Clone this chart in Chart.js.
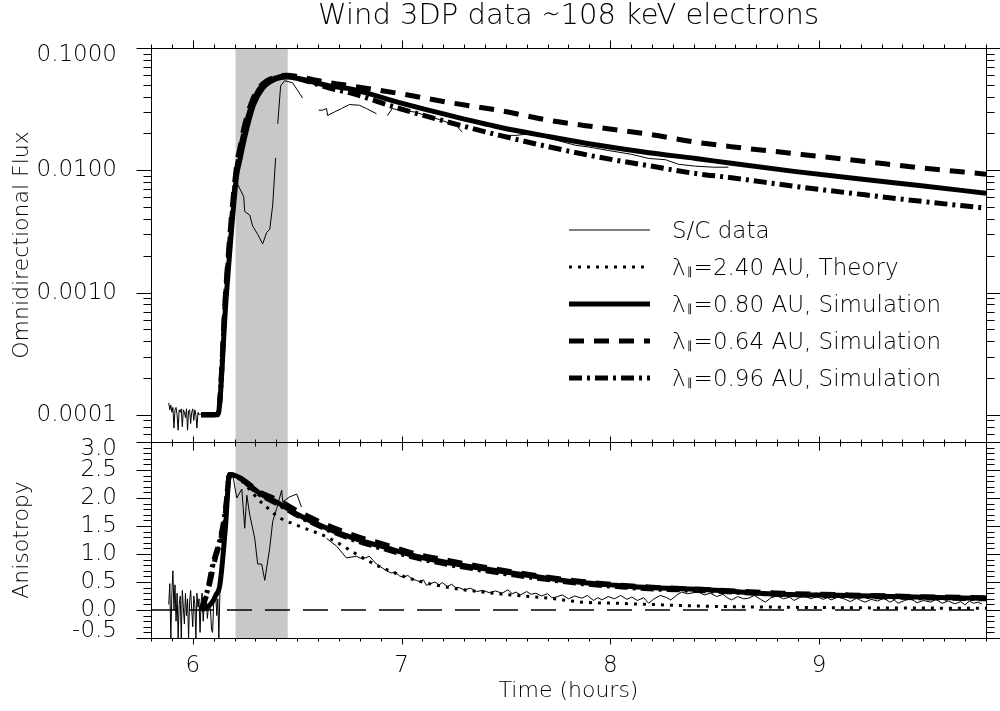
<!DOCTYPE html>
<html>
<head>
<meta charset="utf-8">
<script src="https://cdn.jsdelivr.net/npm/chart.js@4.4.1/dist/chart.umd.min.js"></script>
<style>
html,body{margin:0;padding:0;background:#fff}
#wrap{width:1000px;height:711px}
</style>
</head>
<body>
<div id="wrap"><canvas id="c" width="1000" height="711"></canvas></div>
<script>

// simulated omnidirectional flux (top panel)
let simTime = [6.04, 6.12, 6.16, 6.21, 6.225, 6.25, 6.29, 6.335, 6.40, 6.45, 6.51, 6.655, 6.75, 6.99, 7.23, 7.47, 7.71, 7.945, 8.185, 8.41, 8.58, 8.88, 9.22, 9.48, 9.8]
let flux080 = [1e-4, 1e-4, 9e-4, 0.009, 0.012, 0.019, 0.034, 0.047, 0.056, 0.058, 0.056, 0.049, 0.0465, 0.0358, 0.0281, 0.0225, 0.0188, 0.0160, 0.0139, 0.0125, 0.0114, 0.0098, 0.0084, 0.0075, 0.0065]
let flux064 = [1e-4, 1e-4, 0.0012, 0.011, 0.015, 0.024, 0.039, 0.051, 0.058, 0.060, 0.058, 0.052, 0.0492, 0.0424, 0.0358, 0.0308, 0.0256, 0.0224, 0.0197, 0.0170, 0.0156, 0.0137, 0.0118, 0.0105, 0.0093]
let flux096 = [1e-4, 1e-4, 0.0011, 0.010, 0.014, 0.022, 0.037, 0.050, 0.057, 0.059, 0.056, 0.047, 0.0431, 0.032, 0.0246, 0.0193, 0.0155, 0.0128, 0.0109, 0.0094, 0.0087, 0.0074, 0.0063, 0.0056, 0.0049]

// simulated / theory anisotropy (bottom panel)
let anisTime = [6.04, 6.07, 6.095, 6.11, 6.13, 6.155, 6.177, 6.335, 6.415, 6.495, 6.655, 6.815, 6.91, 7.07, 7.23, 7.39, 7.55, 7.71, 7.865, 8.03, 8.185, 8.425, 8.82, 9.14, 9.46, 9.8]
let anis080 = [0, 0.05, 0.15, 0.26, 0.45, 1.40, 2.42, 2.05, 1.90, 1.72, 1.44, 1.23, 1.13, 0.96, 0.84, 0.74, 0.65, 0.56, 0.49, 0.44, 0.40, 0.37, 0.28, 0.26, 0.23, 0.21]
let anis064 = [0, 0.30, 0.70, 0.95, 1.20, 1.70, 2.42, 2.08, 1.95, 1.78, 1.50, 1.28, 1.18, 1.00, 0.88, 0.77, 0.67, 0.58, 0.51, 0.45, 0.41, 0.37, 0.30, 0.27, 0.24, 0.22]
let anis096 = [0, 0.35, 0.80, 1.00, 1.25, 1.75, 2.42, 2.03, 1.88, 1.70, 1.42, 1.20, 1.10, 0.93, 0.81, 0.71, 0.62, 0.54, 0.47, 0.42, 0.38, 0.35, 0.28, 0.25, 0.22, 0.20]
let anis240 = [0, 0.30, 0.70, 0.95, 1.20, 1.70, 2.42, 1.90, 1.65, 1.52, 1.28, 0.93, 0.75, 0.53, 0.40, 0.32, 0.26, 0.21, 0.14, 0.12, 0.10, 0.07, 0.05, 0.04, 0.035, 0.03]

// spacecraft flux (null = data gap)
let scFluxTime = [
5.885, 5.89, 5.895, 5.9, 5.905, 5.91, 5.915, 5.92, 5.925, 5.93,
5.935, 5.94, 5.945, 5.95, 5.955, 5.96, 5.965, 5.97, 5.975, 5.98,
5.985, 5.99, 5.995, 6.0, 6.005, 6.01, 6.015, 6.02, 6.025, 6.03,
6.035, 6.04, 6.045,
6.12, 6.16, 6.21, 6.244, 6.249, 6.273, 6.287, 6.311, 6.335, 6.354,
6.369, 6.383, 6.397, 6.40, 6.407, 6.421, 6.44, 6.478, 6.526, 6.55,
6.603, 6.622, 6.641, 6.646, 6.679, 6.713, 6.751, 6.799, 6.832, 6.88, 6.90,
6.932, 6.956, 6.99, 7.061, 7.119, 7.181, 7.262, 7.291, 7.35,
7.467, 7.549, 7.625, 7.721, 7.835, 7.897, 7.993, 8.103, 8.184, 8.265,
8.327, 8.409, 8.495, 8.566]
let scFluxValue = [
1.25e-4, 1.1e-4, 1.2e-4, 1.05e-4, 1.15e-4, 0.78e-4, 1.1e-4, 1.15e-4, 1.0e-4, 0.75e-4,
1.1e-4, 1.05e-4, 1.12e-4, 0.8e-4, 1.1e-4, 1.05e-4, 0.95e-4, 1.12e-4, 0.75e-4, 1.08e-4,
1.1e-4, 0.85e-4, 1.05e-4, 1.12e-4, 0.9e-4, 1.1e-4, 1.0e-4, 0.78e-4, 1.05e-4, 1.0e-4,
1.02e-4, 1.0e-4, 1.0e-4,
1.0e-4, 8e-4, 0.008, 0.0061, 0.0046, 0.0043, 0.0035, 0.0030, 0.0025, 0.0031,
0.0033, 0.0052, 0.0126, null, 0.024, 0.049, 0.054, 0.052, 0.039, null,
0.031, 0.031, 0.032, 0.0281, 0.030, 0.032, 0.0345, 0.034, 0.032, 0.029, null,
0.028, 0.032, 0.031, 0.030, 0.028, 0.026, 0.0233, 0.0205, null,
0.0193, 0.0193, 0.020, 0.018, 0.016, 0.0155, 0.0145, 0.0135, 0.0125, 0.0122,
0.0112, 0.0108, 0.0106, 0.0106]

// spacecraft anisotropy
let scAnisTime = [
5.885, 5.89, 5.895, 5.9, 5.905, 5.91, 5.915, 5.92, 5.925, 5.93,
5.935, 5.94, 5.945, 5.95, 5.955, 5.96, 5.965, 5.97, 5.975, 5.98,
5.985, 5.99, 5.995, 6.0, 6.005, 6.01, 6.015, 6.02, 6.025, 6.03,
6.035, 6.04, 6.045, 6.05, 6.055, 6.06, 6.065, 6.07, 6.075, 6.08,
6.085, 6.09, 6.095, 6.1, 6.105, 6.11, 6.115, 6.12, 6.125, 6.13,
6.155, 6.177, 6.192, 6.211, 6.235, 6.249, 6.259, 6.273, 6.297, 6.311,
6.330, 6.345, 6.369, 6.383, 6.402, 6.426, 6.431, 6.464, 6.498, 6.521,
6.56,
6.641, 6.689, 6.736, 6.784, 6.813, 6.846, 6.880,
6.908, 6.93, 6.95, 6.97, 6.99, 7.01, 7.03, 7.05, 7.071, 7.09,
7.105, 7.119, 7.14, 7.16, 7.18, 7.195, 7.22, 7.24, 7.26, 7.276,
7.30, 7.33, 7.36, 7.39, 7.42, 7.45, 7.482, 7.51, 7.53, 7.549,
7.57, 7.60, 7.62, 7.644, 7.67, 7.70, 7.72, 7.74, 7.77, 7.80,
7.83, 7.864, 7.89, 7.92, 7.94, 7.96, 7.99, 8.02, 8.05, 8.08,
8.103, 8.13, 8.16, 8.184, 8.21, 8.24, 8.265, 8.29, 8.32, 8.342,
8.37, 8.40, 8.423, 8.45, 8.48, 8.51, 8.54, 8.56, 8.581, 8.61,
8.64, 8.662, 8.69, 8.72, 8.743, 8.77, 8.80, 8.83, 8.86, 8.88,
8.901, 8.93, 8.96, 8.99, 9.02, 9.04, 9.058, 9.09, 9.12, 9.15,
9.18, 9.20, 9.221, 9.25, 9.28, 9.31, 9.34, 9.36, 9.379, 9.41,
9.44, 9.47, 9.50, 9.536, 9.56, 9.59, 9.62, 9.65, 9.68, 9.699,
9.72, 9.74, 9.761, 9.78]
let scAnisValue = [
0.10, 0.47, -0.50, 0.30, 0.70, 0.00, 0.45, -0.20, 0.30, -0.50,
0.10, 0.25, -0.50, 0.35, 0.05, -0.25, 0.30, -0.10, 0.20, -0.50,
0.15, 0.35, 0.00, -0.30, 0.25, 0.10, -0.50, 0.30, 0.05, 0.20,
-0.40, 0.15, 0.30, -0.20, 0.10, 0.00, 0.20, -0.15, 0.05, 0.10,
0.00, -0.35, -0.40, 0.10, 0.25, 0.30, -0.10, 0.20, -0.50, 0.30,
1.40, 2.42, 2.40, 2.00, 2.16, 1.46, 2.05, 1.70, 1.28, 0.82,
0.82, 0.53, 1.11, 1.58, 1.81, 2.14, 1.93, 2.02, 2.07, 1.84,
null,
1.28, 1.14, 0.93, 0.96, 0.91, 0.96, 0.82,
0.75, 0.70, 0.66, 0.68, 0.61, 0.58, 0.62, 0.55, 0.53, 0.50,
0.54, 0.44, 0.47, 0.50, 0.45, 0.49, 0.42, 0.46, 0.40, 0.40,
0.36, 0.39, 0.33, 0.35, 0.31, 0.34, 0.30, 0.36, 0.29, 0.32,
0.27, 0.33, 0.28, 0.30, 0.25, 0.29, 0.22, 0.23, 0.27, 0.20,
0.25, 0.21, 0.26, 0.17, 0.22, 0.18, 0.24, 0.20, 0.26, 0.19,
0.23, 0.17, 0.22, 0.12, 0.20, 0.26, 0.23, 0.18, 0.27, 0.32,
0.29, 0.31, 0.32, 0.27, 0.30, 0.24, 0.28, 0.22, 0.18, 0.24,
0.20, 0.21, 0.26, 0.19, 0.14, 0.22, 0.25, 0.20, 0.23, 0.17,
0.21, 0.26, 0.20, 0.24, 0.19, 0.22, 0.18, 0.23, 0.20, 0.15,
0.21, 0.17, 0.14, 0.19, 0.16, 0.21, 0.14, 0.18, 0.12, 0.17,
0.20, 0.13, 0.17, 0.14, 0.19, 0.12, 0.16, 0.11, 0.15, 0.09,
0.16, 0.12, 0.14, 0.11]

// reference zero line in the anisotropy panel
let zeroTime = [5.8, 9.8]
let zeroValue = [0, 0]

// axis ticks
let timeTicks = [6, 7, 8, 9]
let fluxTicks = [0.0001, 0.001, 0.01, 0.1]
let anisTicks = [-0.5, 0.0, 0.5, 1.0, 1.5, 2.0, 2.5, 3.0]

// shaded interval
let bandStart = 6.205
let bandEnd = 6.455

let chartTitle = "Wind 3DP data \u223C108 keV electrons"
let legendText = [
"S/C data",
"\u03BB\u2225=2.40 AU, Theory",
"\u03BB\u2225=0.80 AU, Simulation",
"\u03BB\u2225=0.64 AU, Simulation",
"\u03BB\u2225=0.96 AU, Simulation"
]


const FONT = "'DejaVu Sans', sans-serif"
const W = "200"

const sty = {
sc: {w: 1, dash: []},
theory: {w: 3, dash: [3, 6]},
s080: {w: 5, dash: []},
s064: {w: 5, dash: [15, 10]},
s096: {w: 5, dash: [13, 5, 3, 5]}
}
const legendStyles = [sty.sc, sty.theory, sty.s080, sty.s064, sty.s096]


function pts(xs, ys){
return xs.map((x, i) => ({x: x, y: ys[i]}))
}

function line(label, axis, xs, ys, s, smooth){
return {
label: label,
yAxisID: axis,
data: pts(xs, ys),
borderColor: "#000",
borderWidth: s.w,
borderDash: s.dash,
borderCapStyle: "butt",
pointRadius: 0,
fill: false,
spanGaps: false,
cubicInterpolationMode: smooth ? "monotone" : "default",
tension: 0
}
}

// edge labels sit just inside the frame, like the original plot:
// a blank second line nudges the label half a line up or down
function edgeLabel(text, v, lo, hi){
if(Math.abs(v - hi) < 1e-9) return ["", text]
if(Math.abs(v - lo) < 1e-9) return [text, ""]
return text
}


const panelDecor = {
id: "panelDecor",

beforeDatasetsDraw(chart){
const {ctx, chartArea, scales} = chart
const x0 = scales.x.getPixelForValue(bandStart)
const x1 = scales.x.getPixelForValue(bandEnd)
ctx.save()
ctx.fillStyle = "#c8c8c8"
ctx.fillRect(x0, chartArea.top, x1 - x0, chartArea.bottom - chartArea.top)
ctx.restore()
},

afterDraw(chart){
const {ctx, scales, chartArea} = chart
const xs = scales.x
const L = Math.round(xs.left) + 0.5
const R = Math.round(xs.right) + 0.5

ctx.save()
ctx.strokeStyle = "#000"
ctx.lineWidth = 1

const seg = (a, b, c, d) => { ctx.beginPath(); ctx.moveTo(a, b); ctx.lineTo(c, d); ctx.stroke() }

// frames + outward ticks for each panel
const panels = [
{s: scales.yFlux, xl: [8, 4]},
{s: scales.yAnis, xl: [6, 3]}
]

panels.forEach(p => {
const T = Math.round(p.s.top) + 0.5
const B = Math.round(p.s.bottom) + 0.5
ctx.strokeRect(L, T, R - L, B - T)

for(let i = 58; i <= 98; i++){
const px = Math.round(xs.getPixelForValue(i / 10)) + 0.5
const len = i % 10 === 0 ? p.xl[0] : p.xl[1]
seg(px, T, px, T - len)
seg(px, B, px, B + len)
}
})

// flux axis: decades major, 2..9 minor
const yf = scales.yFlux
for(let d = -5; d <= -1; d++){
for(let k = 1; k <= 9; k++){
const v = k * Math.pow(10, d)
if(v < yf.min * 0.999 || v > yf.max * 1.001) continue
const py = Math.round(yf.getPixelForValue(v)) + 0.5
const len = k === 1 ? 15 : 8
seg(L, py, L - len, py)
seg(R, py, R + len, py)
}
}

// anisotropy axis: 0.5 major, 0.1 minor
const ya = scales.yAnis
for(let i = -5; i <= 30; i++){
const py = Math.round(ya.getPixelForValue(i / 10)) + 0.5
const len = i % 5 === 0 ? 15 : 8
seg(L, py, L - len, py)
seg(R, py, R + len, py)
}

// title
ctx.fillStyle = "#000"
ctx.font = W + " 29px " + FONT
ctx.textAlign = "center"
ctx.textBaseline = "middle"
ctx.fillText(chartTitle, (chartArea.left + chartArea.right) / 2, 16)

// legend
const rows = [230, 267, 304, 341, 378]
ctx.textAlign = "left"
ctx.textBaseline = "alphabetic"
legendText.forEach((txt, i) => {
const y = rows[i]
const s = legendStyles[i]
ctx.save()
ctx.lineWidth = s.w
ctx.setLineDash(s.dash)
ctx.lineCap = "butt"
seg(569, y, 650, y)
ctx.restore()

const base = y + 8
let tx = 672
const parts = txt.split("\u2225")
if(parts.length === 2){
ctx.font = W + " 23px " + FONT
ctx.fillText(parts[0], tx, base)
tx += ctx.measureText(parts[0]).width + 1
ctx.font = W + " 11px " + FONT
ctx.fillText("\u2225", tx, base)
tx += ctx.measureText("\u2225").width + 1
ctx.font = W + " 23px " + FONT
ctx.fillText(parts[1], tx, base)
} else {
ctx.font = W + " 23px " + FONT
ctx.fillText(txt, tx, base)
}
})

ctx.restore()
}
}


const tickFont = {family: FONT, size: 23, weight: W, lineHeight: "14px"}
const titleFont = {family: FONT, size: 22, weight: W}

new Chart(document.getElementById("c"), {

type: "line",

data: {
datasets: [
line("S/C data", "yFlux", scFluxTime, scFluxValue, sty.sc, false),
line("S/C data", "yAnis", scAnisTime, scAnisValue, sty.sc, false),
{
label: "zero",
yAxisID: "yAnis",
data: pts(zeroTime, zeroValue),
borderColor: "#000",
borderWidth: 1.4,
borderDash: [25, 13],
pointRadius: 0
},
line("\u03BB=0.80 AU, Simulation", "yFlux", simTime, flux080, sty.s080, true),
line("\u03BB=0.64 AU, Simulation", "yFlux", simTime, flux064, sty.s064, true),
line("\u03BB=0.96 AU, Simulation", "yFlux", simTime, flux096, sty.s096, true),
line("\u03BB=2.40 AU, Theory", "yAnis", anisTime, anis240, sty.theory, true),
line("\u03BB=0.80 AU, Simulation", "yAnis", anisTime, anis080, sty.s080, true),
line("\u03BB=0.64 AU, Simulation", "yAnis", anisTime, anis064, sty.s064, true),
line("\u03BB=0.96 AU, Simulation", "yAnis", anisTime, anis096, sty.s096, true)
]
},

options: {
responsive: false,
animation: false,
layout: {padding: {top: 42, right: 14, bottom: 0, left: 0}},
plugins: {
legend: {display: false},
title: {display: false},
tooltip: {enabled: false}
},
scales: {
x: {
type: "linear",
position: "bottom",
min: 5.8,
max: 9.8,
grid: {display: false, drawTicks: false},
border: {display: false},
afterBuildTicks: s => { s.ticks = timeTicks.map(v => ({value: v})) },
afterFit: s => { s.height = 73 },
ticks: {padding: 14, color: "#000", font: {family: FONT, size: 23, weight: W}, maxRotation: 0, autoSkip: false, callback: v => String(v)},
title: {display: true, text: "Time (hours)", color: "#000", font: titleFont, padding: {top: 0, bottom: 7}}
},
yAnis: {
type: "linear",
position: "left",
stack: "panels",
stackWeight: 198,
min: -0.5,
max: 3.0,
grid: {display: false, drawTicks: false},
border: {display: false},
afterBuildTicks: s => { s.ticks = anisTicks.map(v => ({value: v})) },
afterFit: s => { s.width = 151 },
ticks: {padding: 34, color: "#000", font: tickFont, autoSkip: false, callback: v => edgeLabel(v.toFixed(1), v, -0.5, 3.0)},
title: {display: true, text: "Anisotropy", color: "#000", font: titleFont, padding: {top: 9, bottom: 0}}
},
yFlux: {
type: "logarithmic",
position: "left",
stack: "panels",
stackWeight: 398,
min: 6e-5,
max: 0.1,
grid: {display: false, drawTicks: false},
border: {display: false},
afterBuildTicks: s => { s.ticks = fluxTicks.map(v => ({value: v})) },
afterFit: s => { s.width = 151 },
ticks: {padding: 34, color: "#000", font: tickFont, autoSkip: false, callback: v => edgeLabel(v.toFixed(4), v, 0, 0.1)},
title: {display: true, text: "Omnidirectional Flux", color: "#000", font: titleFont, padding: {top: 9, bottom: 0}}
}
}
},

plugins: [panelDecor]

})

</script>
</body>
</html>
